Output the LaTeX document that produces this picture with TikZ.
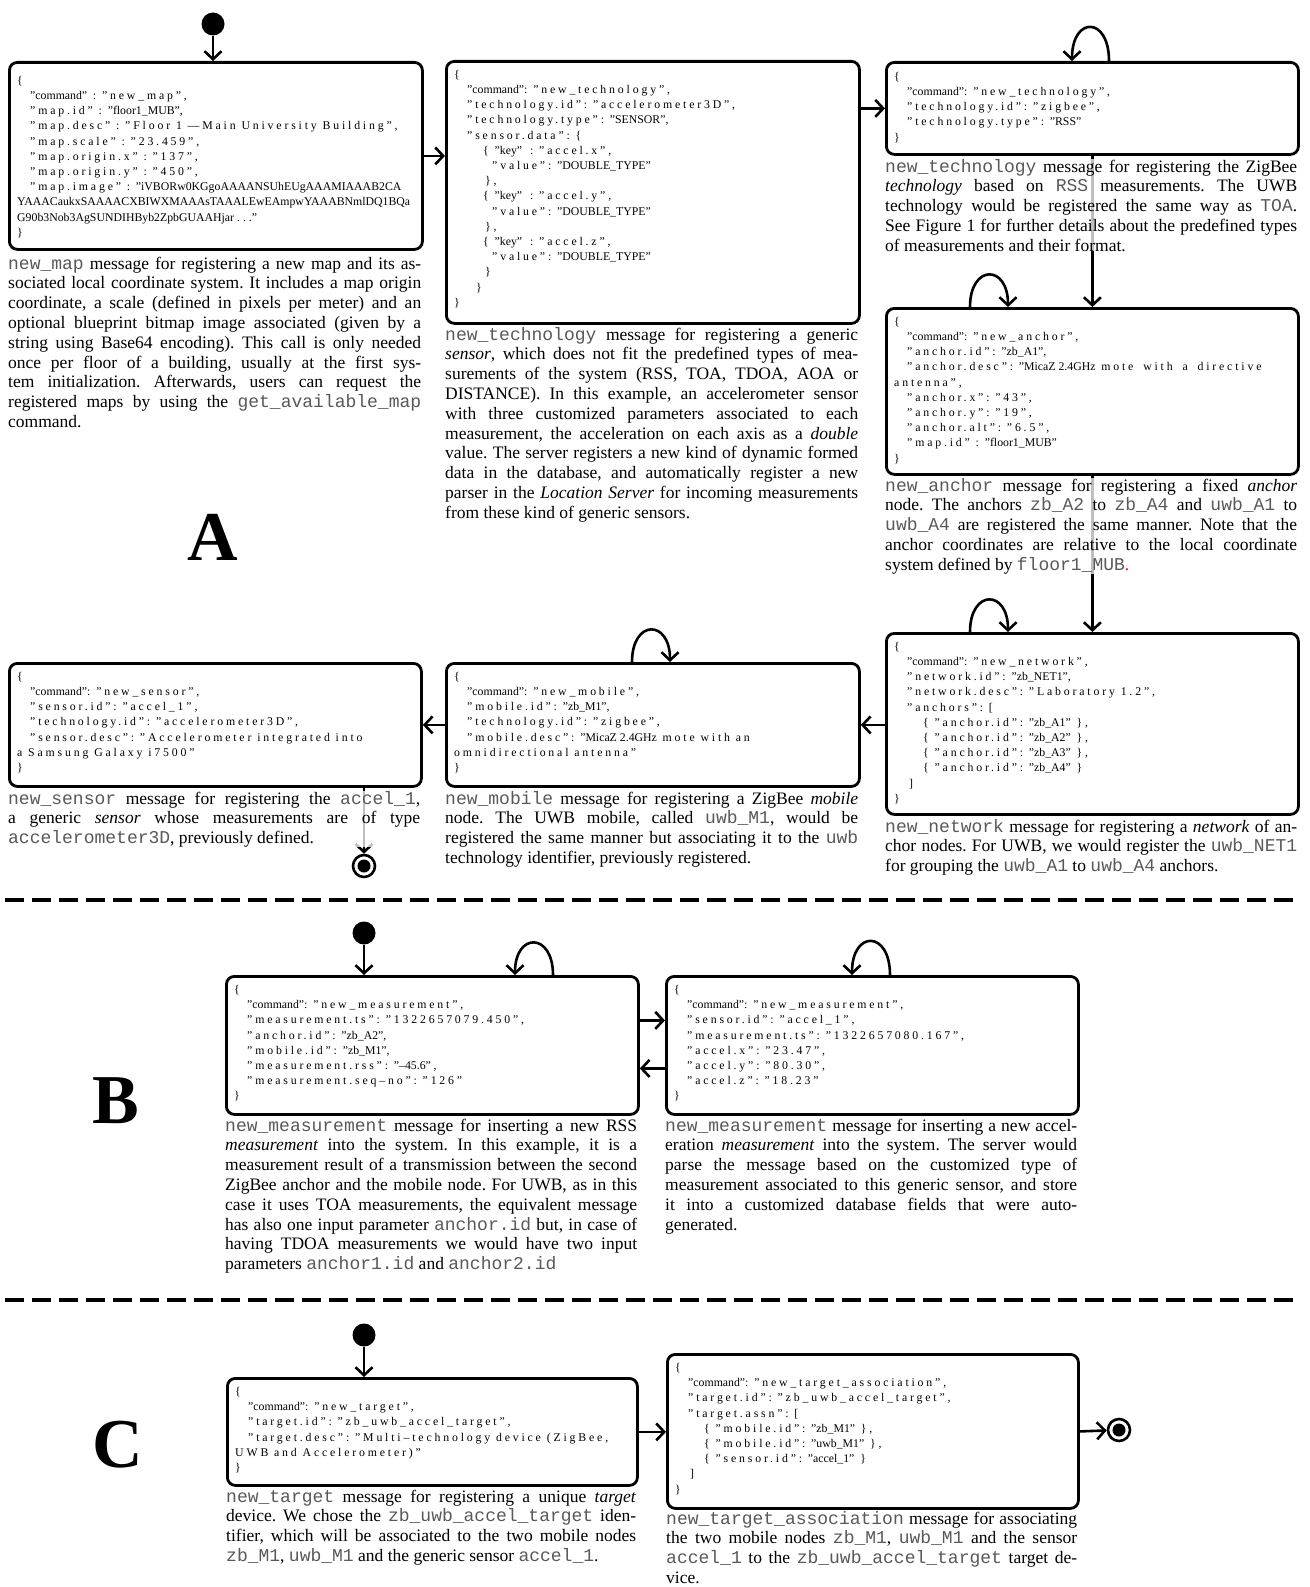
\documentclass[tikz,border=0pt]{standalone}
\usepackage{fontspec}
\setmainfont{Liberation Serif}
\setmonofont{Liberation Mono}
\newfontfamily\codesp[LetterSpace=24]{Liberation Serif}
\newfontfamily\codenm{Liberation Serif}
\usetikzlibrary{arrows.meta}
\newcommand\cdn[1]{{\codenm #1}}
\newcommand\cind[1]{\hspace*{#1pt}}
\newcommand\mtt[1]{{\ttfamily\fontsize{18}{19.8}\selectfont\color{black!65}#1}}
\newcommand\JLine[1]{\hbox to\linewidth{#1}\par\noindent\ignorespaces}
\newcommand\LLine[1]{\hbox to\linewidth{#1\hfil}}
\frenchspacing
\tikzset{
  msgbox/.style={draw, line width=2.8pt, rounded corners=8pt, anchor=north west, inner sep=0pt},
  code/.style={anchor=north west, inner sep=0pt, align=left, font=\fontsize{11.8}{15.2}\selectfont\codesp},
  captext/.style={anchor=base west, inner sep=0pt, align=justify, fill=white, fill opacity=0.75, text opacity=1, font=\fontsize{17.5}{19.8}\selectfont\frenchspacing},
  arr/.style={line width=2.6pt, -{Straight Barb[length=8pt,width=17pt]}},
  startdot/.style={circle, fill=black, minimum size=23pt, inner sep=0pt},
  enddot/.style={circle, draw, line width=2.6pt, minimum size=22pt, inner sep=0pt, path picture={\fill (path picture bounding box.center) circle (6.5pt);}},
  big/.style={font=\fontsize{70}{70}\selectfont\bfseries, inner sep=0pt},
  sepline/.style={line width=3.5pt, dash pattern=on 19pt off 8pt},
}
\begin{document}
\begin{tikzpicture}[x=1pt,y=-1pt]
\useasboundingbox (0,0) rectangle (1309,1587);

% ---------------- boxes ----------------
\node[msgbox, minimum width=413pt, minimum height=187pt] (m1) at (8,61) {};
\node[msgbox, minimum width=413pt, minimum height=262pt] (t2) at (445,60) {};
\node[msgbox, minimum width=412pt, minimum height=92pt] (t3) at (885,61) {};
\node[msgbox, minimum width=412pt, minimum height=166pt] (anc) at (885,307) {};
\node[msgbox, minimum width=412pt, minimum height=181pt] (net) at (885,632) {};
\node[msgbox, minimum width=413pt, minimum height=123pt] (mob) at (445,662) {};
\node[msgbox, minimum width=412pt, minimum height=123pt] (sen) at (8,662) {};
\node[msgbox, minimum width=412pt, minimum height=138pt] (B1) at (225,975) {};
\node[msgbox, minimum width=412pt, minimum height=138pt] (B2) at (665,975) {};
\node[msgbox, minimum width=410pt, minimum height=107pt] (C1) at (226,1377) {};
\node[msgbox, minimum width=411pt, minimum height=154pt] (C2) at (666,1353) {};

% ---------------- code ----------------
\node[code] (m1c) at (17,76) {\{\\
\cind{13}\cdn{”command”} : ”new\_map”,\\
\cind{13}”map.id” : \cdn{”floor1\_MUB”},\\
\cind{13}”map.desc” : ”Floor 1 —Main University Building”,\\
\cind{13}”map.scale” : ”23.459”,\\
\cind{13}”map.origin.x” : ”137”,\\
\cind{13}”map.origin.y” : ”450”,\\
\cind{13}”map.image” : \cdn{”iVBORw0KGgoAAAANSUhEUgAAAMIAAAB2CA}\\
\cdn{YAAACaukxSAAAACXBIWXMAAAsTAAALEwEAmpwYAAABNmlDQ1BQa}\\
\cdn{G90b3Nob3AgSUNDIHByb2ZpbGUAAHjar . . .”}\\
\}};

\node[code] (t2c) at (454,70) {\{\\
\cind{13}\cdn{”command”}: ”new\_technology”,\\
\cind{13}”technology.id”: ”accelerometer3D”,\\
\cind{13}”technology.type”: \cdn{”SENSOR”},\\
\cind{13}”sensor.data”: \{\\
\cind{29}\{ \cdn{”key”}\hspace{8pt}: ”accel.x”,\\
\cind{38}”value”: \cdn{”DOUBLE\_TYPE”}\\
\cind{31}\},\\
\cind{29}\{ \cdn{”key”}\hspace{8pt}: ”accel.y”,\\
\cind{38}”value”: \cdn{”DOUBLE\_TYPE”}\\
\cind{31}\},\\
\cind{29}\{ \cdn{”key”}\hspace{8pt}: ”accel.z”,\\
\cind{38}”value”: \cdn{”DOUBLE\_TYPE”}\\
\cind{31}\}\\
\cind{22}\}\\
\}};

\node[code] (t3c) at (894,72) {\{\\
\cind{13}\cdn{”command”}: ”new\_technology”,\\
\cind{13}”technology.id”: ”zigbee”,\\
\cind{13}”technology.type”: \cdn{”RSS”}\\
\}};

\node[code] (ancc) at (894,317) {\{\\
\cind{13}\cdn{”command”}: ”new\_anchor”,\\
\cind{13}”anchor.id”: \cdn{”zb\_A1”},\\
\cind{13}”anchor.desc”: \cdn{”MicaZ 2.4GHz} mote\hspace{4pt} with\hspace{4pt} a\hspace{4pt} directive\\
antenna”,\\
\cind{13}”anchor.x”: ”43”,\\
\cind{13}”anchor.y”: ”19”,\\
\cind{13}”anchor.alt”: ”6.5”,\\
\cind{13}”map.id” : \cdn{”floor1\_MUB”}\\
\}};

\node[code] (netc) at (894,642) {\{\\
\cind{13}\cdn{”command”}: ”new\_network”,\\
\cind{13}”network.id”: \cdn{”zb\_NET1”},\\
\cind{13}”network.desc”: ”Laboratory 1.2”,\\
\cind{13}”anchors”: [\\
\cind{29}\{ ”anchor.id”: \cdn{”zb\_A1”} \},\\
\cind{29}\{ ”anchor.id”: \cdn{”zb\_A2”} \},\\
\cind{29}\{ ”anchor.id”: \cdn{”zb\_A3”} \},\\
\cind{29}\{ ”anchor.id”: \cdn{”zb\_A4”} \}\\
\cind{15}]\\
\}};

\node[code] (mobc) at (454,672) {\{\\
\cind{13}\cdn{”command”}: ”new\_mobile”,\\
\cind{13}”mobile.id”: \cdn{”zb\_M1”},\\
\cind{13}”technology.id”: ”zigbee”,\\
\cind{13}”mobile.desc”: \cdn{”MicaZ 2.4GHz} mote with an\\
omnidirectional antenna”\\
\}};

\node[code] (senc) at (17,672) {\{\\
\cind{13}\cdn{”command”}: ”new\_sensor”,\\
\cind{13}”sensor.id”: ”accel\_1”,\\
\cind{13}”technology.id”: ”accelerometer3D”,\\
\cind{13}”sensor.desc”: ”Accelerometer integrated into\\
a Samsung Galaxy i7500”\\
\}};

\node[code] (B1c) at (234,985) {\{\\
\cind{13}\cdn{”command”}: ”new\_measurement”,\\
\cind{13}”measurement.ts”: ”1322657079.450”,\\
\cind{13}”anchor.id”: \cdn{”zb\_A2”},\\
\cind{13}”mobile.id”: \cdn{”zb\_M1”},\\
\cind{13}”measurement.rss”: ”\cdn{–45.6}”,\\
\cind{13}”measurement.seq–no”: ”126”\\
\}};

\node[code] (B2c) at (674,985) {\{\\
\cind{13}\cdn{”command”}: ”new\_measurement”,\\
\cind{13}”sensor.id”: ”accel\_1”,\\
\cind{13}”measurement.ts”: ”1322657080.167”,\\
\cind{13}”accel.x”: ”23.47”,\\
\cind{13}”accel.y”: ”80.30”,\\
\cind{13}”accel.z”: ”18.23”\\
\}};

\node[code] (C1c) at (235,1387) {\{\\
\cind{13}\cdn{”command”}: ”new\_target”,\\
\cind{13}”target.id”: ”zb\_uwb\_accel\_target”,\\
\cind{13}”target.desc”: ”Multi–technology device (ZigBee,\\
UWB and Accelerometer)”\\
\}};

\node[code] (C2c) at (675,1363) {\{\\
\cind{13}\cdn{”command”}: ”new\_target\_association”,\\
\cind{13}”target.id”: ”zb\_uwb\_accel\_target”,\\
\cind{13}”target.assn”: [\\
\cind{29}\{ ”mobile.id”: \cdn{”zb\_M1”} \},\\
\cind{29}\{ ”mobile.id”: \cdn{”uwb\_M1”} \},\\
\cind{29}\{ ”sensor.id”: \cdn{”accel\_1”} \}\\
\cind{15}]\\
\}};

% ---------------- start / end ----------------
\node[startdot] (sA) at (213,24) {};
\node[enddot] (eA) at (364,866) {};
\node[startdot] (sB) at (364,933) {};
\node[startdot] (sC) at (364,1335) {};
\node[enddot] (eC) at (1119,1430) {};

% ---------------- connectors ----------------
\draw[arr] (sA) -- (sA |- m1.north);
\draw[arr] (m1.east) -- (t2.west |- m1.east);
\draw[arr] (t2.east |- t3.west) -- (t3.west);
\draw[arr] ([xshift=224pt]t3.north west) .. controls +(0,-45) and +(0,-45) .. ([xshift=187pt]t3.north west);
\draw[arr] (t3.south) -- (anc.north);
\draw[arr] ([xshift=85pt]anc.north west) .. controls +(0,-43) and +(0,-43) .. ([xshift=123pt]anc.north west);
\draw[arr] (anc.south) -- (net.north);
\draw[arr] ([xshift=85pt]net.north west) .. controls +(0,-43) and +(0,-43) .. ([xshift=123pt]net.north west);
\draw[arr] (net.west |- mob.east) -- (mob.east);
\draw[arr] ([xshift=187pt]mob.north west) .. controls +(0,-43) and +(0,-43) .. ([xshift=225pt]mob.north west);
\draw[arr] (mob.west) -- (sen.east);
\draw[arr] (sen.south -| eA) -- (eA);

\draw[arr] (sB) -- (sB |- B1.north);
\draw[arr] ([xshift=328pt]B1.north west) .. controls +(0,-43) and +(0,-43) .. ([xshift=290pt]B1.north west);
\draw[arr] ([xshift=225pt]B2.north west) .. controls +(0,-45) and +(0,-45) .. ([xshift=187pt]B2.north west);
\draw[arr] ([yshift=25pt]B1.east) -- ([yshift=25pt]B2.west);
\draw[arr] ([yshift=-23pt]B2.west) -- ([yshift=-23pt]B1.east);

\draw[arr] (sC) -- (sC |- C1.north);
\draw[arr] (C1.east) -- (C2.west |- C1.east);
\draw[arr] (C2.east) -- (eC);

% ---------------- separators and letters ----------------
\draw[sepline] (5,900) -- (1300,900);
\draw[sepline] (5,1300) -- (1300,1300);
\node[big] (lA) at (213,537) {A};
\node[big] (lB) at (116,1101) {B};
\node[big] (lC) at (118,1445) {C};

% ---------------- captions ----------------
\node[captext, text width=413pt] (cap1) at (8,269) {%
\JLine{\mtt{new\_map} message for registering a new map and its as-}
\JLine{sociated local coordinate system. It includes a map origin}
\JLine{coordinate, a scale (defined in pixels per meter) and an}
\JLine{optional blueprint bitmap image associated (given by a}
\JLine{string using Base64 encoding). This call is only needed}
\JLine{once per floor of a building, usually at the first sys-}
\JLine{tem initialization. Afterwards, users can request the}
\JLine{registered maps by using the \mtt{get\_available\_map}}
\LLine{command.}};

\node[captext, text width=413pt] (cap2) at (445,340) {%
\JLine{\mtt{new\_technology} message for registering a generic}
\JLine{\textit{sensor}, which does not fit the predefined types of mea-}
\JLine{surements of the system (RSS, TOA, TDOA, AOA or}
\JLine{DISTANCE). In this example, an accelerometer sensor}
\JLine{with three customized parameters associated to each}
\JLine{measurement, the acceleration on each axis as a \textit{double}}
\JLine{value. The server registers a new kind of dynamic formed}
\JLine{data in the database, and automatically register a new}
\JLine{parser in the \textit{Location Server} for incoming measurements}
\LLine{from these kind of generic sensors.}};

\node[captext, text width=412pt] (cap3) at (885,172) {%
\JLine{\mtt{new\_technology} message for registering the ZigBee}
\JLine{\textit{technology} based on \mtt{RSS} measurements. The UWB}
\JLine{technology would be registered the same way as \mtt{TOA}.}
\JLine{See Figure 1 for further details about the predefined types}
\LLine{of measurements and their format.}};

\node[captext, text width=412pt] (cap4) at (885,491) {%
\JLine{\mtt{new\_anchor} message for registering a fixed \textit{anchor}}
\JLine{node. The anchors \mtt{zb\_A2} to \mtt{zb\_A4} and \mtt{uwb\_A1} to}
\JLine{\mtt{uwb\_A4} are registered the same manner. Note that the}
\JLine{anchor coordinates are relative to the local coordinate}
\LLine{system defined by \mtt{floor1\_MUB}\textcolor{red}{.}}};

\node[captext, text width=412pt] (cap5) at (885,832) {%
\JLine{\mtt{new\_network} message for registering a \textit{network} of an-}
\JLine{chor nodes. For UWB, we would register the \mtt{uwb\_NET1}}
\LLine{for grouping the \mtt{uwb\_A1} to \mtt{uwb\_A4} anchors.}};

\node[captext, text width=413pt] (cap6) at (445,804) {%
\JLine{\mtt{new\_mobile} message for registering a ZigBee \textit{mobile}}
\JLine{node. The UWB mobile, called \mtt{uwb\_M1}, would be}
\JLine{registered the same manner but associating it to the \mtt{uwb}}
\LLine{technology identifier, previously registered.}};

\node[captext, text width=412pt] (cap7) at (8,804) {%
\JLine{\mtt{new\_sensor} message for registering the \mtt{accel\_1},}
\JLine{a generic \textit{sensor} whose measurements are of type}
\LLine{\mtt{accelerometer3D}, previously defined.}};

\node[captext, text width=412pt] (capB1) at (225,1131) {%
\JLine{\mtt{new\_measurement} message for inserting a new RSS}
\JLine{\textit{measurement} into the system. In this example, it is a}
\JLine{measurement result of a transmission between the second}
\JLine{ZigBee anchor and the mobile node. For UWB, as in this}
\JLine{case it uses TOA measurements, the equivalent message}
\JLine{has also one input parameter \mtt{anchor.id} but, in case of}
\JLine{having TDOA measurements we would have two input}
\LLine{parameters \mtt{anchor1.id} and \mtt{anchor2.id}}};

\node[captext, text width=412pt] (capB2) at (665,1131) {%
\JLine{\mtt{new\_measurement} message for inserting a new accel-}
\JLine{eration \textit{measurement} into the system. The server would}
\JLine{parse the message based on the customized type of}
\JLine{measurement associated to this generic sensor, and store}
\JLine{it into a customized database fields that were auto-}
\LLine{generated.}};

\node[captext, text width=410pt] (capC1) at (226,1502) {%
\JLine{\mtt{new\_target} message for registering a unique \textit{target}}
\JLine{device. We chose the \mtt{zb\_uwb\_accel\_target} iden-}
\JLine{tifier, which will be associated to the two mobile nodes}
\LLine{\mtt{zb\_M1}, \mtt{uwb\_M1} and the generic sensor \mtt{accel\_1}.}};

\node[captext, text width=411pt] (capC2) at (666,1524) {%
\JLine{\mtt{new\_target\_association} message for associating}
\JLine{the two mobile nodes \mtt{zb\_M1}, \mtt{uwb\_M1} and the sensor}
\JLine{\mtt{accel\_1} to the \mtt{zb\_uwb\_accel\_target} target de-}
\LLine{vice.}};
\end{tikzpicture}
\end{document}
